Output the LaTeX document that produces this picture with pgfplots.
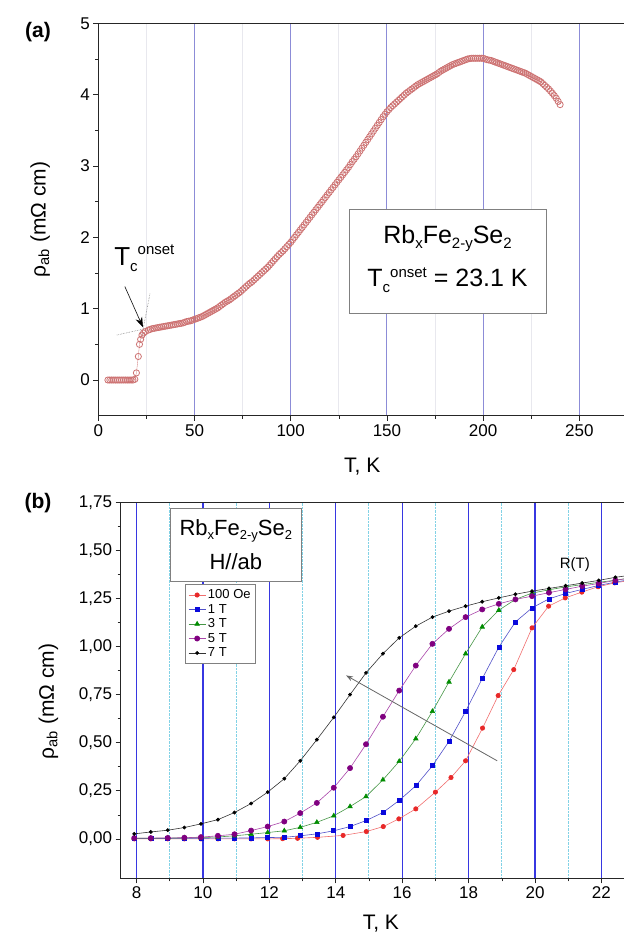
\documentclass[border=0pt]{standalone}
\usepackage{fontspec}
\setmainfont{Liberation Sans}
\usepackage{pgfplots}
\pgfplotsset{compat=1.18}
\usetikzlibrary{arrows.meta}
\definecolor{gridA}{RGB}{140,140,215}
\definecolor{gridAm}{RGB}{232,232,238}
\definecolor{gridB}{RGB}{55,55,225}
\definecolor{gridBm}{RGB}{130,210,230}
\definecolor{ptA}{RGB}{205,115,115}
\definecolor{cRed}{RGB}{232,40,40}
\definecolor{cRedL}{RGB}{240,110,110}
\definecolor{cBlue}{RGB}{10,10,220}
\definecolor{cBlueL}{RGB}{80,80,200}
\definecolor{cGreen}{RGB}{0,140,0}
\definecolor{cGreenL}{RGB}{70,150,70}
\definecolor{cPurp}{RGB}{128,0,128}
\definecolor{cPurpL}{RGB}{170,70,170}
\newcommand{\fs}[1]{\fontsize{#1}{#1}\selectfont}
\pgfplotsset{
  common/.style={
    scale only axis, anchor=south west,
    axis line style={line width=0.8pt, black!85},
    tick align=outside, xtick pos=left, ytick pos=left,
    major tick length=5pt, minor tick length=3pt,
    tick style={black!85, line width=0.6pt},
    /pgf/number format/assume math mode=true,
    tick label style={font=\fs{17}},
    label style={font=\fs{21}},
    clip=true,
  }
}
\begin{document}
\begin{tikzpicture}
\useasboundingbox (0,0) rectangle (624pt,943pt);
% ---------------- panel (a)
\begin{axis}[common,
  at={(98.3pt,527.3pt)}, width=528pt, height=392.4pt,
  xmin=0, xmax=274.4, ymin=-0.5, ymax=5,
  xtick={0,50,100,150,200,250}, ytick={0,1,2,3,4,5},
  minor x tick num=1, minor y tick num=1,
  xmajorgrids, xminorgrids,
  major x grid style={gridA, line width=1.1pt},
  minor x grid style={gridAm, line width=0.9pt},
  xlabel={T, K},
  ylabel={ρ\textsubscript{ab} (mΩ cm)},
  x label style={at={(axis description cs:0.5,-0.13)}, anchor=center},
  y label style={at={(axis description cs:-0.11,0.5)}, anchor=center},
]
\addplot[ptA, line width=0.3pt, mark=o, mark size=3.1pt, mark options={ptA, line width=0.8pt, fill=white}] coordinates {
(5,0) (6,0) (7,0) (8,0) (9,0) (10,0) (11,0) (12,0) (13,0) (14,0) (15,0) (16,0) (17,0) (18,0) (19,0.01)
(19.8,0.1) (20.8,0.33) (21.4,0.5) (22.0,0.57) (22.7,0.63) (23.5,0.66) (24.5,0.68) (26,0.7) (27,0.71) (28,0.72)
(29,0.725) (30,0.73) (31,0.735) (32,0.74) (33,0.745) (34,0.75) (35,0.755) (36,0.76) (37,0.765) (38,0.77) (39,0.775) (40,0.78) (41,0.785) (42,0.79) (43,0.795) (44,0.8) (45,0.81) (46,0.82) (47,0.825) (48,0.83)
(49,0.84) (50,0.85) (51,0.86) (52,0.87) (53,0.88) (54,0.89) (55,0.905) (56,0.92) (57,0.935) (58,0.95) (59,0.965) (60,0.98) (61,0.995) (62,1.01) (63,1.03) (64,1.05) (65,1.07) (66,1.09) (67,1.105) (68,1.12)
(69,1.14) (70,1.16) (71,1.18) (72,1.2) (73,1.22) (74,1.24) (75,1.265) (76,1.29) (77,1.315) (78,1.34) (79,1.36) (80,1.38) (81,1.405) (82,1.43) (83,1.455) (84,1.48) (85,1.505) (86,1.53) (87,1.555) (88,1.58)
(89,1.61) (90,1.64) (91,1.67) (92,1.7) (93,1.73) (94,1.76) (95,1.785) (96,1.81) (97,1.84) (98,1.87) (99,1.9) (100,1.93) (101,1.965) (102,2.0) (103,2.035) (104,2.07) (105,2.105) (106,2.14) (107,2.175) (108,2.21)
(109,2.245) (110,2.28) (111,2.315) (112,2.35) (113,2.385) (114,2.42) (115,2.455) (116,2.49) (117,2.525) (118,2.56) (119,2.595) (120,2.63) (121,2.665) (122,2.7) (123,2.735) (124,2.77) (125,2.805) (126,2.84)
(127,2.875) (128,2.91) (129,2.945) (130,2.98) (131,3.02) (132,3.06) (133,3.095) (134,3.13) (135,3.17) (136,3.21) (137,3.25) (138,3.29) (139,3.33) (140,3.37) (141,3.41) (142,3.45) (143,3.49) (144,3.53)
(145,3.57) (146,3.61) (147,3.65) (148,3.69) (149,3.725) (150,3.76) (151,3.79) (152,3.82) (153,3.845) (154,3.87) (155,3.895) (156,3.92) (157,3.945) (158,3.97) (159,3.995) (160,4.02) (161,4.04) (162,4.06)
(163,4.08) (164,4.1) (165,4.12) (166,4.14) (167,4.155) (168,4.17) (169,4.185) (170,4.2) (171,4.215) (172,4.23) (173,4.245) (174,4.26) (175,4.275) (176,4.29) (177,4.31) (178,4.33) (179,4.345) (180,4.36)
(181,4.375) (182,4.39) (183,4.405) (184,4.42) (185,4.43) (186,4.44) (187,4.45) (188,4.46) (189,4.47) (190,4.48) (191,4.49) (192,4.5) (193,4.505) (194,4.51) (195,4.51) (196,4.51) (197,4.51) (198,4.51)
(199,4.51) (200,4.51) (201,4.5) (202,4.49) (203,4.485) (204,4.48) (205,4.47) (206,4.46) (207,4.45) (208,4.44) (209,4.43) (210,4.42) (211,4.41) (212,4.4) (213,4.39) (214,4.38) (215,4.37) (216,4.36)
(217,4.35) (218,4.34) (219,4.33) (220,4.32) (221,4.31) (222,4.3) (223,4.285) (224,4.27) (225,4.255) (226,4.24) (227,4.225) (228,4.21) (229,4.195) (230,4.18) (231,4.155) (232,4.13) (233,4.105) (234,4.08)
(235,4.05) (236,4.02) (237,3.985) (238,3.95) (239,3.905) (240,3.86)
};
\draw[gray, densely dotted, line width=0.6pt] (axis cs:9.6,0.63) -- (axis cs:25.2,0.725);
\draw[gray, densely dotted, line width=0.6pt] (axis cs:22.5,0.607) -- (axis cs:26.9,1.216);
\draw[black, line width=0.6pt, -{Stealth[length=10pt,width=7pt]}] (axis cs:13.8,1.31) -- (axis cs:23.2,0.74);
\node[anchor=base west, inner sep=0pt, font=\fs{26}] at (axis cs:8.2,1.61)
  {T\raisebox{-6pt}{\fs{15}c}\raisebox{11pt}{\fs{15}onset}};
\draw[gray, line width=0.7pt, fill=white] (axis cs:130.3,0.939) rectangle (axis cs:232.7,2.397);
\node[font=\fs{25}] at (axis cs:181.5,1.99)
  {Rb\raisebox{-5pt}{\fs{15}x}Fe\raisebox{-5pt}{\fs{15}2-y}Se\raisebox{-5pt}{\fs{15}2}};
\node[font=\fs{25}] at (axis cs:181.5,1.40)
  {T\raisebox{-6pt}{\fs{15}c}\raisebox{9pt}{\fs{15}onset} = 23.1 K};
\end{axis}
% ---------------- panel (b)
\begin{axis}[common,
  at={(120.6pt,64.7pt)}, width=505.4pt, height=376pt,
  xmin=7.52, xmax=22.74, ymin=-0.205, ymax=1.75,
  xtick={8,10,...,22}, ytick={0,0.25,...,1.75},
  minor x tick num=1, minor y tick num=1,
  yticklabel style={/pgf/number format/.cd, use comma, fixed, fixed zerofill, precision=2},
  xmajorgrids, xminorgrids,
  major x grid style={gridB, line width=1.2pt},
  minor x grid style={gridBm, densely dotted, line width=1pt},
  xlabel={T, K},
  ylabel={ρ\textsubscript{ab} (mΩ cm)},
  x label style={at={(axis description cs:0.515,-0.12)}, anchor=center},
  y label style={at={(axis description cs:-0.143,0.47)}, anchor=center},
  legend style={at={(axis cs:9.46,1.323)}, anchor=north west, draw=gray, line width=0.6pt,
    font=\fs{13}, row sep=0pt, inner sep=3pt, cells={anchor=west}},
  legend image code/.code={\draw[mark repeat=2,mark phase=2] plot coordinates {(0cm,0cm) (0.3cm,0cm) (0.6cm,0cm)};},
  legend cell align=left,
]
\addplot[cRedL, line width=0.6pt, mark=*, mark size=2.2pt, mark options={cRed, fill=cRed}] coordinates {
(7.93,0) (8.43,0) (8.94,0) (9.44,0) (9.94,0) (10.45,0) (10.95,0) (11.45,0) (11.95,0) (12.4,0.001)
(12.85,0.003) (13.45,0.008) (14.22,0.018) (14.92,0.038) (15.43,0.064) (15.9,0.104) (16.41,0.156)
(17.0,0.243) (17.47,0.319) (17.91,0.406) (18.42,0.576) (18.89,0.745) (19.36,0.88) (19.91,1.097)
(20.41,1.21) (20.91,1.253) (21.41,1.283) (21.9,1.311) (22.4,1.331) (22.9,1.345)
};
\addlegendentry{100 Oe}
\addplot[cBlueL, line width=0.6pt, mark=square*, mark size=2.0pt, mark options={cBlue, fill=cBlue}] coordinates {
(7.93,0.002) (8.43,0.002) (8.94,0.002) (9.44,0.003) (9.94,0.003) (10.45,0.004) (10.95,0.004) (11.45,0.005)
(11.95,0.007) (12.45,0.008) (12.93,0.016) (13.43,0.026) (13.94,0.042) (14.43,0.064) (14.91,0.095)
(15.42,0.137) (15.91,0.2) (16.41,0.276) (16.91,0.38) (17.41,0.507) (17.91,0.663) (18.41,0.833)
(18.91,0.997) (19.41,1.128) (19.91,1.201) (20.42,1.248) (20.92,1.276) (21.42,1.297) (21.92,1.318)
(22.42,1.335) (22.92,1.35)
};
\addlegendentry{1 T}
\addplot[cGreenL, line width=0.6pt, mark=triangle*, mark size=2.6pt, mark options={cGreen, fill=cGreen}] coordinates {
(7.93,0.003) (8.43,0.003) (8.94,0.004) (9.44,0.005) (9.94,0.007) (10.45,0.01) (10.95,0.016) (11.45,0.024)
(11.95,0.033) (12.45,0.042) (12.93,0.06) (13.43,0.086) (13.94,0.12) (14.43,0.168) (14.91,0.22)
(15.42,0.307) (15.91,0.403) (16.41,0.521) (16.91,0.663) (17.41,0.816) (17.91,0.963) (18.41,1.102)
(18.91,1.189) (19.41,1.245) (19.91,1.278) (20.42,1.295) (20.92,1.31) (21.42,1.322) (21.92,1.334)
(22.42,1.345) (22.92,1.358)
};
\addlegendentry{3 T}
\addplot[cPurpL, line width=0.6pt, mark=*, mark size=2.6pt, mark options={cPurp, fill=cPurp}] coordinates {
(7.93,0.004) (8.43,0.004) (8.94,0.005) (9.44,0.006) (9.94,0.009) (10.45,0.016) (10.95,0.024) (11.45,0.043)
(11.95,0.064) (12.45,0.09) (12.93,0.134) (13.43,0.187) (13.94,0.266) (14.43,0.368) (14.91,0.492)
(15.42,0.635) (15.91,0.771) (16.41,0.901) (16.91,1.014) (17.41,1.092) (17.91,1.153) (18.41,1.193)
(18.91,1.222) (19.41,1.245) (19.91,1.262) (20.42,1.28) (20.92,1.297) (21.42,1.314) (21.92,1.328)
(22.42,1.344) (22.92,1.358)
};
\addlegendentry{5 T}
\addplot[black!80, line width=0.6pt, mark=*, mark size=1.6pt, mark options={black, fill=black}] coordinates {
(7.93,0.026) (8.43,0.036) (8.94,0.045) (9.44,0.059) (9.94,0.078) (10.45,0.1) (10.95,0.137) (11.45,0.184)
(11.95,0.243) (12.45,0.313) (12.93,0.406) (13.43,0.516) (13.94,0.632) (14.43,0.75) (14.91,0.863)
(15.42,0.963) (15.91,1.045) (16.41,1.106) (16.91,1.153) (17.41,1.184) (17.91,1.21) (18.41,1.233)
(18.91,1.253) (19.41,1.272) (19.91,1.288) (20.42,1.302) (20.92,1.316) (21.42,1.33) (21.92,1.344)
(22.42,1.36) (22.92,1.372)
};
\addlegendentry{7 T}
\draw[black!60, line width=0.8pt, -{Stealth[length=7pt,width=5pt]}] (axis cs:18.86,0.406) -- (axis cs:14.31,0.85);
\node[font=\fs{15}] at (axis cs:21.2,1.427) {R(T)};
\draw[gray, line width=0.7pt, fill=white] (axis cs:9.01,1.340) rectangle (axis cs:12.97,1.719);
\node[font=\fs{22}] at (axis cs:10.99,1.60)
  {Rb\raisebox{-4pt}{\fs{13}x}Fe\raisebox{-4pt}{\fs{13}2-y}Se\raisebox{-4pt}{\fs{13}2}};
\node[font=\fs{22}] at (axis cs:10.99,1.44) {H//ab};
\end{axis}
\node[font=\bfseries\fs{21}] at (38pt,911pt) {(a)};
\node[font=\bfseries\fs{21}] at (38pt,440pt) {(b)};
\end{tikzpicture}
\end{document}
